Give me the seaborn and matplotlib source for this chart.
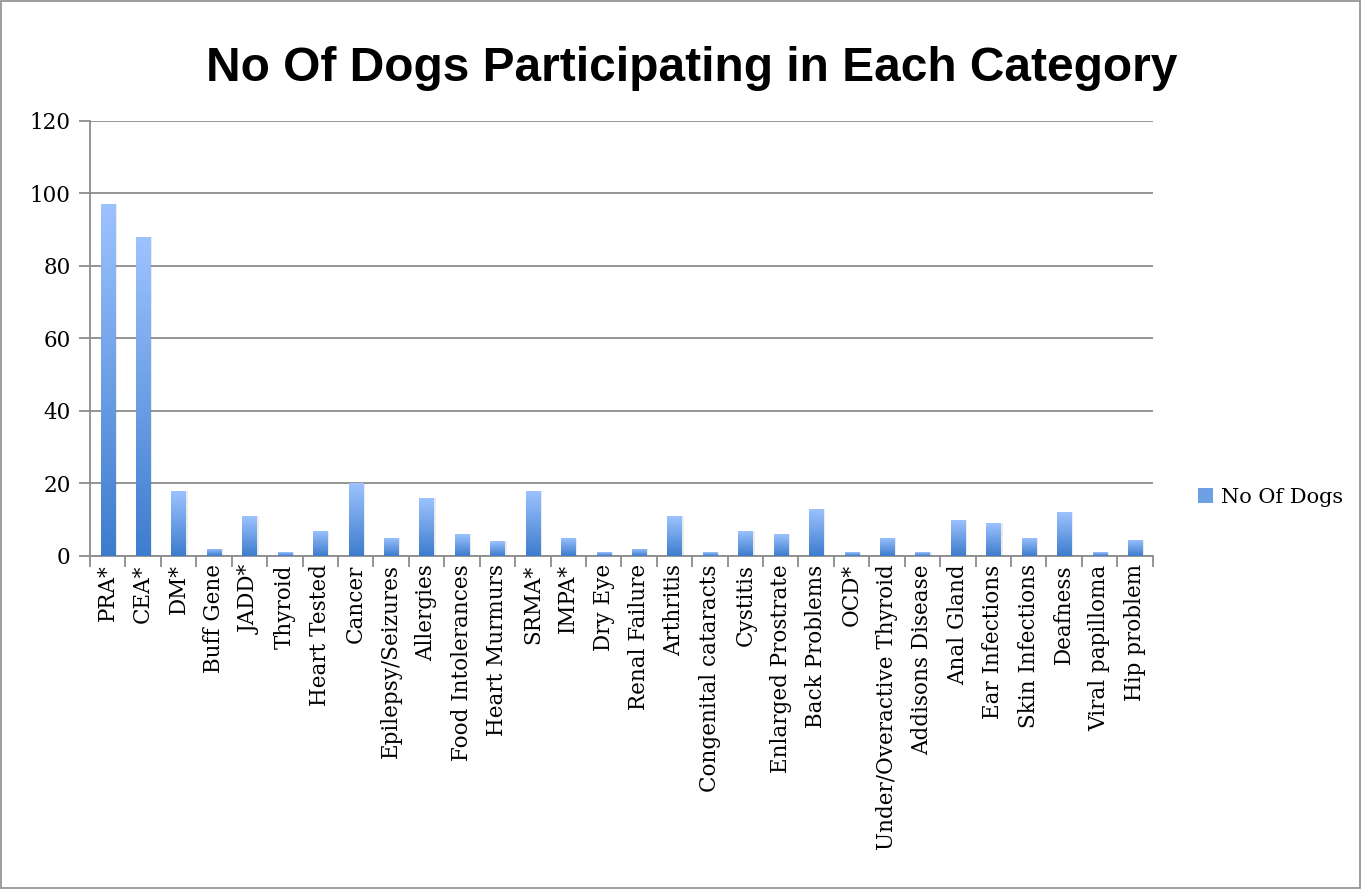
import numpy as np
import pandas as pd
import matplotlib
matplotlib.use("Agg")
import matplotlib.pyplot as plt
import seaborn as sns
from matplotlib.colors import LinearSegmentedColormap
from matplotlib.patches import Rectangle

categories = ["PRA*", "CEA*", "DM*", "Buff Gene", "JADD*", "Thyroid", "Heart Tested",
              "Cancer", "Epilepsy/Seizures", "Allergies", "Food Intolerances",
              "Heart Murmurs", "SRMA*", "IMPA*", "Dry Eye", "Renal Failure", "Arthritis",
              "Congenital cataracts", "Cystitis", "Enlarged Prostrate", "Back Problems",
              "OCD*", "Under/Overactive Thyroid", "Addisons Disease", "Anal Gland",
              "Ear Infections", "Skin Infections", "Deafness", "Viral papilloma",
              "Hip problem"]
dogs = [97, 88, 18, 2, 11, 1, 7, 20, 5, 16, 6, 4, 18, 5, 1, 2, 11, 1, 7, 6, 13,
        1, 5, 1, 10, 9, 5, 12, 1, 4.5]

df = pd.DataFrame({"category": categories, "No Of Dogs": dogs})

sns.set_theme(style="white")
plt.rcParams["font.family"] = ["DejaVu Serif"]
plt.rcParams["text.color"] = "black"

fig = plt.figure(figsize=(13.61, 8.89), dpi=100)
ax = fig.add_axes([0.0661, 0.3746, 0.7809, 0.4893])

sns.barplot(data=df, x="category", y="No Of Dogs", ax=ax, width=0.4,
            color="#5b93e0", saturation=1, label="No Of Dogs")

# vertical gradient inside each bar: light on top, darker at the base
grad_cmap = LinearSegmentedColormap.from_list("bar", ["#3d7ccd", "#9dc3ff"])
grad = np.linspace(0, 1, 256).reshape(-1, 1)
for p in ax.patches:
    x0, y0 = p.get_x(), p.get_y()
    w, h = p.get_width(), p.get_height()
    # soft shadow
    ax.add_patch(Rectangle((x0 + 0.06, y0), w, h, facecolor="#000000",
                           alpha=0.08, edgecolor="none", zorder=2))
    im = ax.imshow(grad, cmap=grad_cmap, origin="lower", aspect="auto",
                   extent=[x0, x0 + w, y0, y0 + h], zorder=3)
    im.set_clip_path(p)
    p.set_facecolor("none")
    p.set_edgecolor("none")

ax.set_xlim(-0.5, len(categories) - 0.5)
ax.set_ylim(0, 120)
ax.set_yticks(range(0, 121, 20))
ax.yaxis.grid(True, color="#8c8c8c", linewidth=1.3)
ax.set_axisbelow(True)

ax.set_xticks(range(len(categories)))
ax.set_xticklabels(categories, rotation=90, fontsize=15.5)
ax.set_xticks(np.arange(-0.5, len(categories), 1), minor=True)
ax.tick_params(axis="x", which="major", length=0, pad=6, labelcolor="black")
ax.tick_params(axis="x", which="minor", length=8, width=1.3, color="#8c8c8c",
               bottom=True)
ax.tick_params(axis="y", length=8, width=1.3, color="#8c8c8c", labelsize=15.5,
               left=True, pad=6, labelcolor="black")

ax.set_xlabel("")
ax.set_ylabel("")
for s in ["top", "right"]:
    ax.spines[s].set_visible(False)
for s in ["left", "bottom"]:
    ax.spines[s].set_color("#8c8c8c")
    ax.spines[s].set_linewidth(1.3)

handle = Rectangle((0, 0), 1, 1, facecolor="#6ea0e6", edgecolor="none")
ax.legend([handle], ["No Of Dogs"], loc="center left",
          bbox_to_anchor=(1.025, 0.135), frameon=False, fontsize=15,
          handlelength=0.7, handleheight=0.7, handletextpad=0.4)

fig.text(0.508, 0.9235, "No Of Dogs Participating in Each Category",
         ha="center", va="center", fontsize=34.5, fontweight="bold", color="black",
         family=["Liberation Sans", "DejaVu Sans"])

# outer chart border
fig.patches.append(Rectangle((0.001, 0.001), 0.998, 0.998, transform=fig.transFigure,
                             fill=False, edgecolor="#8c8c8c", linewidth=1.2))

fig.savefig("out.png", dpi=100)
